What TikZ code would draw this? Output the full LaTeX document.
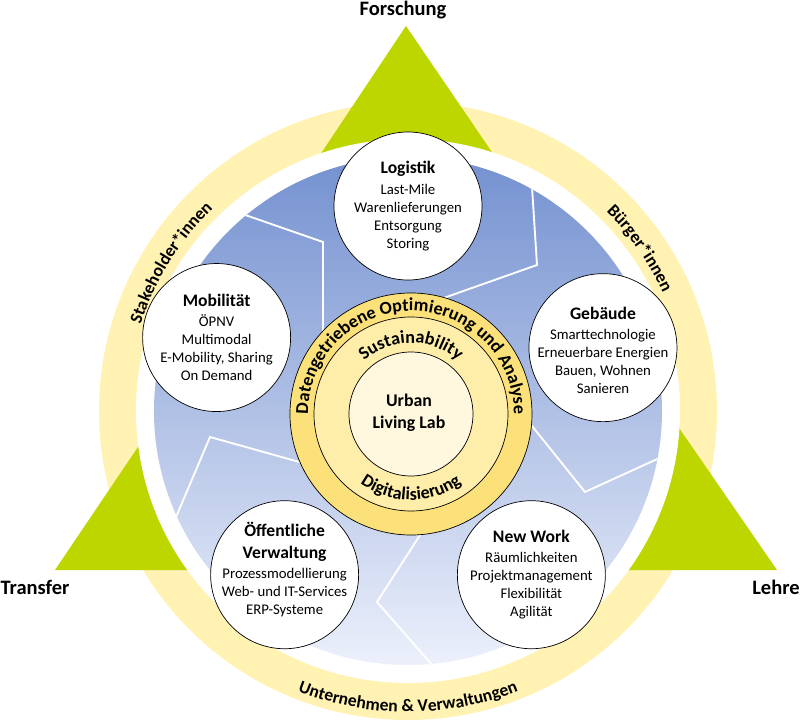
\documentclass[tikz,border=0pt]{standalone}
\usepackage{fontspec}
\setmainfont{Carlito}
\usetikzlibrary{positioning,calc,decorations.text}

\definecolor{ringyellow}{RGB}{255,242,178}
\definecolor{trigreen}{RGB}{190,214,0}
\definecolor{bluetop}{RGB}{116,145,208}
\definecolor{bluebot}{RGB}{236,240,251}
\definecolor{coreouter}{RGB}{252,225,122}
\definecolor{coremid}{RGB}{254,238,170}
\definecolor{coreinner}{RGB}{255,248,222}
\newcommand\topicname[1]{{\bfseries\fontsize{15}{15}\selectfont #1}}

\begin{document}
\begin{tikzpicture}
[x=0.03cm, y=0.03cm,
every node/.style={draw=none, inner sep=0pt},
topic/.style={circle, draw=black, line width=.6pt, fill=white, minimum size=4.44cm},
topictext/.style={align=center, font=\fontsize{12.6}{15.4}\selectfont},
pillar/.style={font=\bfseries\fontsize{17.5}{17.5}\selectfont},
zigzag/.style={draw=white, line width=1.6pt},
ringtext/.style={decorate, decoration={text along path, text align=center,
  text={|\bfseries\fontsize{15}{15}\selectfont|#1}}},
coretext/.style={decorate, decoration={text along path, text align=center,
  text={|\bfseries\fontsize{15.5}{15.5}\selectfont|#1}}}]
\useasboundingbox (-408,-312) rectangle (392,411);
%%
%% outer ring and the three pillars
\fill[ringyellow] (0,0) circle (309);
\fill[trigreen] (-2,385) -- (-92,250) -- (90,250) -- cycle;
\fill[trigreen] (-268,-33) -- (-353,-159) -- (-183,-159) -- cycle;
\fill[trigreen] (269,-14) -- (169,-159) -- (369,-159) -- cycle;
\fill[white] (0,0) circle (272);
\shade[top color=bluetop, bottom color=bluebot] (0,0) circle (254);
%%
\node[pillar] (forschung) at (-5,401) {Forschung};
\node[pillar] (transfer) at (-373,-176) {Transfer};
\node[pillar] (lehre) at (368,-176) {Lehre};
%%
\path[ringtext={Stakeholder*innen}] (168:281) arc[start angle=168, end angle=128, radius=281];
\path[ringtext={Bürger*innen}] (57:281) arc[start angle=57, end angle=13, radius=281];
\path[ringtext={Unternehmen {\&} Verwaltungen}] (235:301) arc[start angle=235, end angle=305, radius=301];
%%
%% white zigzag lines
\begin{scope}
\clip (0,0) circle (254);
\draw[zigzag] (-180,202) -- (-85,169) -- (-85,80);
\draw[zigzag] (123,240) -- (129,146) -- (30,111);
\draw[zigzag] (280,-34) -- (177,-81) -- (120,-10);
\draw[zigzag] (40,-272) -- (-31,-191) -- (14,-121);
\draw[zigzag] (-240,-125) -- (-198,-26) -- (-105,-52);
\end{scope}
%%
%% core
\begin{scope}[shift={(3,-3)}]
\coordinate (core) at (0,0);
\filldraw[fill=coreouter, draw=black, line width=.6pt] (core) circle (121);
\filldraw[fill=coremid, draw=black, line width=.6pt] (core) circle (97);
\filldraw[fill=coreinner, draw=black, line width=.6pt] (core) circle (62);
\path[coretext={Datengetriebene Optimierung und Analyse}] (205:103) arc[start angle=205, end angle=-25, radius=103];
\path[coretext={Sustainability}] (150:71) arc[start angle=150, end angle=30, radius=71];
\path[coretext={Digitalisierung}] (210:86) arc[start angle=210, end angle=330, radius=86];
\end{scope}
\node[align=center, font=\bfseries\fontsize{15.2}{18.7}\selectfont] (ull) at (1,-2) {Urban\\Living Lab};
%%
%% topics
\def \rad {205}
\node[topic] (logistik) at (90:\rad) {};
\node[topic] (mobilitaet) at (159:\rad) {};
\node[topic] (gebaeude) at (18:\rad) {};
\node[topic] (verwaltung) at (233:\rad) {};
\node[topic] (newwork) at (307:\rad) {};
%%
\node[topictext] (logistikT) at (logistik) {\topicname{Logistik}\\[2pt]
  Last-Mile\\Warenlieferungen\\Entsorgung\\Storing};
\node[topictext] (mobilitaetT) at (mobilitaet) {\topicname{Mobilität}\\[2pt]
  ÖPNV\\Multimodal\\E-Mobility, Sharing\\On Demand};
\node[topictext] (gebaeudeT) at ([yshift=-.08cm]gebaeude) {\topicname{Gebäude}\\[2pt]
  Smarttechnologie\\Erneuerbare Energien\\Bauen, Wohnen\\Sanieren};
\node[topictext] (verwaltungT) at ([yshift=.15cm]verwaltung) {\topicname{Öffentliche}\\[3pt]
  \topicname{Verwaltung}\\[2pt]
  Prozessmodellierung\\Web- und IT-Services\\ERP-Systeme};
\node[topictext] (newworkT) at (newwork) {\topicname{New Work}\\[2pt]
  Räumlichkeiten\\Projektmanagement\\Flexibilität\\Agilität};
\end{tikzpicture}
\end{document}
